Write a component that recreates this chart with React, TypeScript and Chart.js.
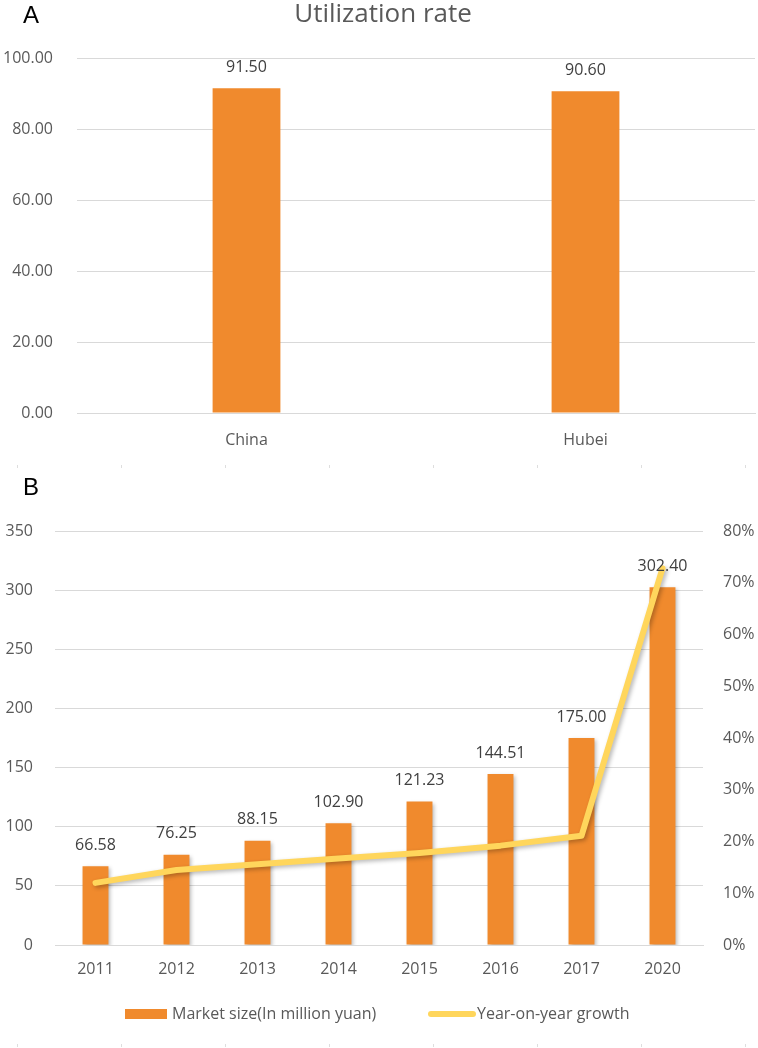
import React, { useEffect, useRef } from "react";
import { Chart, registerables } from "chart.js";

Chart.register(...registerables);

// ---------- Data ----------
const utilTitle = "Utilization rate";
const utilCategories = ["China", "Hubei"];
const utilValues = [91.5, 90.6];

const years = ["2011", "2012", "2013", "2014", "2015", "2016", "2017", "2020"];
const marketSize = [66.58, 76.25, 88.15, 102.9, 121.23, 144.51, 175.0, 302.4];
const growthPct = [12.0, 14.5, 15.6, 16.7, 17.8, 19.2, 21.1, 72.8];
const marketSizeLabel = "Market size(In million yuan)";
const growthLabel = "Year-on-year growth";

// ---------- Styles ----------
const FONT = "'Open Sans', 'Noto Sans', sans-serif";
const TEXT = "#595959";
const LABEL = "#404040";
const GRID = "#D9D9D9";
const ORANGE = "#F08A2D";
const YELLOW = "#FFD65C";

const drawFaintTicks = (ctx: CanvasRenderingContext2D, y: number, w: number) => {
  ctx.save();
  ctx.fillStyle = "rgba(200,200,200,0.6)";
  for (let x = 17; x < w; x += 104) ctx.fillRect(x, y - 1, 1, 3);
  ctx.restore();
};

const barLabelPlugin = (datasetIndex: number) => ({
  id: "barLabels" + datasetIndex,
  afterDatasetsDraw(chart: any) {
    const ctx = chart.ctx;
    const meta = chart.getDatasetMeta(datasetIndex);
    const data = chart.data.datasets[datasetIndex].data;
    ctx.save();
    ctx.font = `16px ${FONT}`;
    ctx.fillStyle = LABEL;
    ctx.textAlign = "center";
    ctx.textBaseline = "middle";
    meta.data.forEach((el: any, i: number) => {
      ctx.fillText(Number(data[i]).toFixed(2), el.x, el.y - 21);
    });
    ctx.restore();
  },
});

function UtilChart() {
  const ref = useRef<HTMLCanvasElement>(null);
  useEffect(() => {
    const chart = new Chart(ref.current!, {
      type: "bar",
      data: {
        labels: utilCategories,
        datasets: [
          {
            data: utilValues,
            backgroundColor: ORANGE,
            barPercentage: 0.2,
            categoryPercentage: 1,
          },
        ],
      },
      options: {
        animation: false,
        responsive: false,
        layout: { padding: { top: 58, right: 3, left: 0, bottom: 0 } },
        plugins: { legend: { display: false }, tooltip: { enabled: false } },
        scales: {
          x: {
            grid: { display: false, drawTicks: false },
            border: { display: true, color: GRID },
            ticks: { color: TEXT, font: { family: FONT, size: 16 }, padding: 18, maxRotation: 0 },
            afterFit: (s: any) => { s.height = 57; },
          },
          y: {
            min: 0,
            max: 100,
            ticks: {
              stepSize: 20,
              color: TEXT,
              font: { family: FONT, size: 16 },
              padding: 24,
              callback: (v: any) => Number(v).toFixed(2),
            },
            grid: { color: GRID, drawTicks: false },
            border: { display: false },
            afterFit: (s: any) => { s.width = 77; },
          },
        },
      },
      plugins: [
        barLabelPlugin(0),
        {
          id: "decor",
          afterDraw(c: any) {
            const ctx = c.ctx;
            ctx.save();
            ctx.fillStyle = "#000";
            ctx.font = `24px 'Liberation Sans', Arial, sans-serif`;
            ctx.textAlign = "center";
            ctx.textBaseline = "middle";
            ctx.fillText("A", 31, 16);
            ctx.fillStyle = TEXT;
            ctx.font = `26px ${FONT}`;
            ctx.fillText(utilTitle, 383, 15);
            ctx.restore();
            drawFaintTicks(ctx, 466, c.width);
          },
        },
      ],
    } as any);
    return () => chart.destroy();
  }, []);
  return <canvas ref={ref} width={758} height={470} style={{ display: "block" }} />;
}

function MarketChart() {
  const ref = useRef<HTMLCanvasElement>(null);
  useEffect(() => {
    const shadowPlugin = {
      id: "shadow",
      beforeDatasetDraw(c: any) {
        const ctx = c.ctx;
        ctx.save();
        ctx.shadowColor = "rgba(0,0,0,0.28)";
        ctx.shadowBlur = 4;
        ctx.shadowOffsetX = 2;
        ctx.shadowOffsetY = 2;
      },
      afterDatasetDraw(c: any) {
        c.ctx.restore();
      },
    };
    const chart = new Chart(ref.current!, {
      type: "bar",
      data: {
        labels: years,
        datasets: [
          {
            type: "line",
            label: growthLabel,
            data: growthPct,
            yAxisID: "y1",
            borderColor: YELLOW,
            backgroundColor: YELLOW,
            borderWidth: 6,
            pointRadius: 0,
            tension: 0,
            borderCapStyle: "round",
            borderJoinStyle: "round",
            order: 0,
          },
          {
            type: "bar",
            label: marketSizeLabel,
            data: marketSize,
            yAxisID: "y",
            backgroundColor: ORANGE,
            barPercentage: 0.32,
            categoryPercentage: 1,
            order: 1,
          },
        ],
      },
      options: {
        animation: false,
        responsive: false,
        layout: { padding: { top: 61, right: 0, left: 0, bottom: 0 } },
        plugins: { legend: { display: false }, tooltip: { enabled: false } },
        scales: {
          x: {
            grid: { display: false, drawTicks: false },
            border: { display: true, color: GRID },
            ticks: { color: TEXT, font: { family: FONT, size: 16 }, padding: 15, maxRotation: 0 },
            afterFit: (s: any) => { s.height = 103; },
          },
          y: {
            position: "left",
            min: 0,
            max: 350,
            ticks: { stepSize: 50, color: TEXT, font: { family: FONT, size: 16 }, padding: 22 },
            grid: { color: GRID, drawTicks: false },
            border: { display: false },
            afterFit: (s: any) => { s.width = 55; },
          },
          y1: {
            position: "right",
            min: 0,
            max: 80,
            ticks: {
              stepSize: 10,
              color: TEXT,
              font: { family: FONT, size: 16 },
              padding: 20,
              callback: (v: any) => `${v}%`,
            },
            grid: { drawOnChartArea: false, drawTicks: false },
            border: { display: false },
            afterFit: (s: any) => { s.width = 55; },
          },
        },
      },
      plugins: [
        shadowPlugin,
        barLabelPlugin(1),
        {
          id: "decor",
          afterDraw(c: any) {
            const ctx = c.ctx;
            ctx.save();
            ctx.fillStyle = "#000";
            ctx.font = `24px 'Liberation Sans', Arial, sans-serif`;
            ctx.textAlign = "center";
            ctx.textBaseline = "middle";
            ctx.fillText("B", 31, 18);
            // legend
            ctx.textAlign = "left";
            ctx.font = `16px ${FONT}`;
            ctx.fillStyle = ORANGE;
            ctx.fillRect(125, 539, 42, 10);
            ctx.fillStyle = TEXT;
            ctx.fillText(marketSizeLabel, 172, 544);
            ctx.strokeStyle = YELLOW;
            ctx.lineWidth = 6;
            ctx.lineCap = "round";
            ctx.beginPath();
            ctx.moveTo(431, 544);
            ctx.lineTo(473, 544);
            ctx.stroke();
            ctx.fillText(growthLabel, 477, 544);
            ctx.restore();
            drawFaintTicks(ctx, 575, c.width);
          },
        },
      ],
    } as any);
    return () => chart.destroy();
  }, []);
  return <canvas ref={ref} width={758} height={578} style={{ display: "block" }} />;
}

export default function App() {
  useEffect(() => {
    document.body.style.margin = "0";
  }, []);
  return (
    <div style={{ width: 758, height: 1048, background: "#fff", margin: 0 }}>
      <UtilChart />
      <MarketChart />
    </div>
  );
}
